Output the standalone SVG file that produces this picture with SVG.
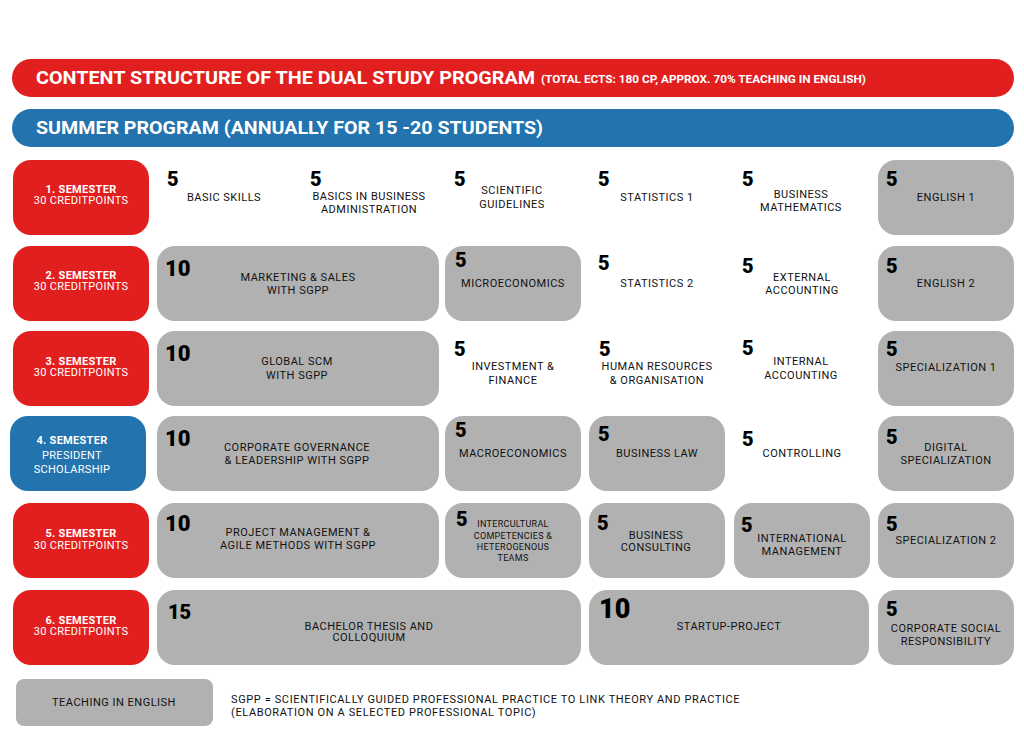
<svg xmlns="http://www.w3.org/2000/svg" width="1024" height="750" viewBox="0 0 1024 750">
<style>
.red{fill:#e21f1f}
.blue{fill:#2273ae}
.grey{fill:#b1b1b1}
.hd{font-family:Roboto,"Liberation Sans",sans-serif;font-weight:700;fill:#fff}
.sem{font-family:Roboto,"Liberation Sans",sans-serif;font-size:11px;fill:#fff;text-anchor:middle;letter-spacing:0.3px}
.semb{font-weight:700}
.num{font-family:Roboto,"Liberation Sans",sans-serif;font-weight:900;font-size:20px;fill:#000}
.big{font-size:22px}
.huge{font-size:27px}
.lbl{font-family:Roboto,"Liberation Sans",sans-serif;font-size:11px;fill:#111;text-anchor:middle;letter-spacing:0.5px}
.sm{font-size:9px;letter-spacing:0.3px}
.leg{font-family:Roboto,"Liberation Sans",sans-serif;font-size:11px;fill:#111;letter-spacing:0.4px}
</style>
<rect width="1024" height="750" fill="#fff"/>
<g id="title">
<rect class="red" x="12" y="59" width="1002" height="38" rx="19"/>
<text class="hd" x="36" y="84" font-size="19" textLength="499" lengthAdjust="spacingAndGlyphs">CONTENT STRUCTURE OF THE DUAL STUDY PROGRAM</text>
<text class="hd" x="541" y="83" font-size="11" textLength="325" lengthAdjust="spacingAndGlyphs">(TOTAL ECTS: 180 CP, APPROX. 70% TEACHING IN ENGLISH)</text>
</g>
<g id="summer">
<rect class="blue" x="12" y="109" width="1002" height="38" rx="19"/>
<text class="hd" x="36" y="134" font-size="18" textLength="507" lengthAdjust="spacingAndGlyphs">SUMMER PROGRAM (ANNUALLY FOR 15 -20 STUDENTS)</text>
</g>
<g id="sem1"><rect class="red" x="13" y="160" width="136" height="75" rx="18"/>
<text class="sem semb" x="81" y="193">1. SEMESTER</text><text class="sem" x="81" y="204">30 CREDITPOINTS</text></g>
<g id="sem2"><rect class="red" x="13" y="246" width="136" height="75" rx="18"/>
<text class="sem semb" x="81" y="279">2. SEMESTER</text><text class="sem" x="81" y="290">30 CREDITPOINTS</text></g>
<g id="sem3"><rect class="red" x="13" y="331" width="136" height="75" rx="18"/>
<text class="sem semb" x="81" y="365">3. SEMESTER</text><text class="sem" x="81" y="376">30 CREDITPOINTS</text></g>
<g id="sem4"><rect class="blue" x="10" y="416" width="136" height="75" rx="18"/>
<text class="sem semb" x="72" y="444">4. SEMESTER</text><text class="sem" x="72" y="459">PRESIDENT</text><text class="sem" x="72" y="473">SCHOLARSHIP</text></g>
<g id="sem5"><rect class="red" x="13" y="503" width="136" height="75" rx="18"/>
<text class="sem semb" x="81" y="537">5. SEMESTER</text><text class="sem" x="81" y="549">30 CREDITPOINTS</text></g>
<g id="sem6"><rect class="red" x="13" y="590" width="136" height="75" rx="18"/>
<text class="sem semb" x="81" y="624">6. SEMESTER</text><text class="sem" x="81" y="635">30 CREDITPOINTS</text></g>

<!-- Row 1 -->
<g id="basic-skills"><text class="num" x="167" y="186">5</text><text class="lbl" x="224" y="201">BASIC SKILLS</text></g>
<g id="basics-ba"><text class="num" x="310" y="186">5</text><text class="lbl" x="369" y="200">BASICS IN BUSINESS</text><text class="lbl" x="369" y="213">ADMINISTRATION</text></g>
<g id="sci-guide"><text class="num" x="454" y="186">5</text><text class="lbl" x="512" y="194">SCIENTIFIC</text><text class="lbl" x="512" y="208">GUIDELINES</text></g>
<g id="stat1"><text class="num" x="598" y="186">5</text><text class="lbl" x="657" y="201">STATISTICS 1</text></g>
<g id="bus-math"><text class="num" x="742" y="186">5</text><text class="lbl" x="801" y="198">BUSINESS</text><text class="lbl" x="801" y="211">MATHEMATICS</text></g>
<g id="english1"><rect class="grey" x="878" y="160" width="136" height="75" rx="18"/><text class="num" x="886" y="186">5</text><text class="lbl" x="946" y="201">ENGLISH 1</text></g>

<!-- Row 2 -->
<g id="marketing"><rect class="grey" x="157" y="246" width="282" height="75" rx="18"/><text class="num big" x="165" y="276">10</text><text class="lbl" x="298" y="281">MARKETING &amp; SALES</text><text class="lbl" x="298" y="294">WITH SGPP</text></g>
<g id="micro"><rect class="grey" x="445" y="246" width="136" height="75" rx="18"/><text class="num" x="455" y="267">5</text><text class="lbl" x="513" y="287">MICROECONOMICS</text></g>
<g id="stat2"><text class="num" x="598" y="270">5</text><text class="lbl" x="657" y="287">STATISTICS 2</text></g>
<g id="ext-acc"><text class="num" x="742" y="273">5</text><text class="lbl" x="802" y="281">EXTERNAL</text><text class="lbl" x="802" y="294">ACCOUNTING</text></g>
<g id="english2"><rect class="grey" x="878" y="246" width="136" height="75" rx="18"/><text class="num" x="886" y="273">5</text><text class="lbl" x="946" y="287">ENGLISH 2</text></g>

<!-- Row 3 -->
<g id="scm"><rect class="grey" x="157" y="331" width="282" height="75" rx="18"/><text class="num big" x="165" y="361">10</text><text class="lbl" x="297" y="365">GLOBAL SCM</text><text class="lbl" x="297" y="379">WITH SGPP</text></g>
<g id="invest"><text class="num" x="454" y="356">5</text><text class="lbl" x="513" y="370">INVESTMENT &amp;</text><text class="lbl" x="513" y="384">FINANCE</text></g>
<g id="hr"><text class="num" x="599" y="356">5</text><text class="lbl" x="657" y="370">HUMAN RESOURCES</text><text class="lbl" x="657" y="384">&amp; ORGANISATION</text></g>
<g id="int-acc"><text class="num" x="742" y="355">5</text><text class="lbl" x="801" y="365">INTERNAL</text><text class="lbl" x="801" y="379">ACCOUNTING</text></g>
<g id="spec1"><rect class="grey" x="878" y="331" width="136" height="75" rx="18"/><text class="num" x="886" y="356">5</text><text class="lbl" x="946" y="371">SPECIALIZATION 1</text></g>

<!-- Row 4 -->
<g id="governance"><rect class="grey" x="157" y="416" width="282" height="75" rx="18"/><text class="num big" x="165" y="446">10</text><text class="lbl" x="297" y="451">CORPORATE GOVERNANCE</text><text class="lbl" x="297" y="464">&amp; LEADERSHIP WITH SGPP</text></g>
<g id="macro"><rect class="grey" x="445" y="416" width="136" height="75" rx="18"/><text class="num" x="455" y="437">5</text><text class="lbl" x="513" y="457">MACROECONOMICS</text></g>
<g id="law"><rect class="grey" x="589" y="416" width="136" height="75" rx="18"/><text class="num" x="598" y="441">5</text><text class="lbl" x="657" y="457">BUSINESS LAW</text></g>
<g id="controlling"><text class="num" x="742" y="446">5</text><text class="lbl" x="802" y="457">CONTROLLING</text></g>
<g id="digital"><rect class="grey" x="878" y="416" width="136" height="75" rx="18"/><text class="num" x="886" y="444">5</text><text class="lbl" x="946" y="451">DIGITAL</text><text class="lbl" x="946" y="464">SPECIALIZATION</text></g>

<!-- Row 5 -->
<g id="pm"><rect class="grey" x="157" y="503" width="282" height="75" rx="18"/><text class="num big" x="165" y="531">10</text><text class="lbl" x="298" y="536">PROJECT MANAGEMENT &amp;</text><text class="lbl" x="298" y="549">AGILE METHODS WITH SGPP</text></g>
<g id="intercultural"><rect class="grey" x="445" y="503" width="136" height="75" rx="18"/><text class="num" x="456" y="526">5</text><text class="lbl sm" x="513" y="527">INTERCULTURAL</text><text class="lbl sm" x="513" y="539">COMPETENCIES &amp;</text><text class="lbl sm" x="513" y="550">HETEROGENOUS</text><text class="lbl sm" x="513" y="561">TEAMS</text></g>
<g id="consulting"><rect class="grey" x="589" y="503" width="136" height="75" rx="18"/><text class="num" x="597" y="530">5</text><text class="lbl" x="656" y="539">BUSINESS</text><text class="lbl" x="656" y="551">CONSULTING</text></g>
<g id="intl-mgmt"><rect class="grey" x="734" y="503" width="136" height="75" rx="18"/><text class="num" x="741" y="532">5</text><text class="lbl" x="802" y="542">INTERNATIONAL</text><text class="lbl" x="802" y="555">MANAGEMENT</text></g>
<g id="spec2"><rect class="grey" x="878" y="503" width="136" height="75" rx="18"/><text class="num" x="886" y="531">5</text><text class="lbl" x="946" y="544">SPECIALIZATION 2</text></g>

<!-- Row 6 -->
<g id="thesis"><rect class="grey" x="157" y="590" width="424" height="75" rx="18"/><text class="num" x="168" y="619">15</text><text class="lbl" x="369" y="630">BACHELOR THESIS AND</text><text class="lbl" x="369" y="641">COLLOQUIUM</text></g>
<g id="startup"><rect class="grey" x="589" y="590" width="280" height="75" rx="18"/><text class="num huge" x="599" y="618">10</text><text class="lbl" x="729" y="630">STARTUP-PROJECT</text></g>
<g id="csr"><rect class="grey" x="878" y="590" width="136" height="75" rx="18"/><text class="num" x="886" y="616">5</text><text class="lbl" x="946" y="632">CORPORATE SOCIAL</text><text class="lbl" x="946" y="645">RESPONSIBILITY</text></g>

<g id="legend"><rect class="grey" x="16" y="679" width="197" height="47" rx="8"/><text class="lbl" x="114" y="706">TEACHING IN ENGLISH</text></g>
<g id="note"><text class="leg" x="231" y="703" textLength="509" lengthAdjust="spacing">SGPP = SCIENTIFICALLY GUIDED PROFESSIONAL PRACTICE TO LINK THEORY AND PRACTICE</text><text class="leg" x="231" y="716" textLength="305" lengthAdjust="spacing">(ELABORATION ON A SELECTED PROFESSIONAL TOPIC)</text></g>
<g id="connectors"></g>
</svg>
